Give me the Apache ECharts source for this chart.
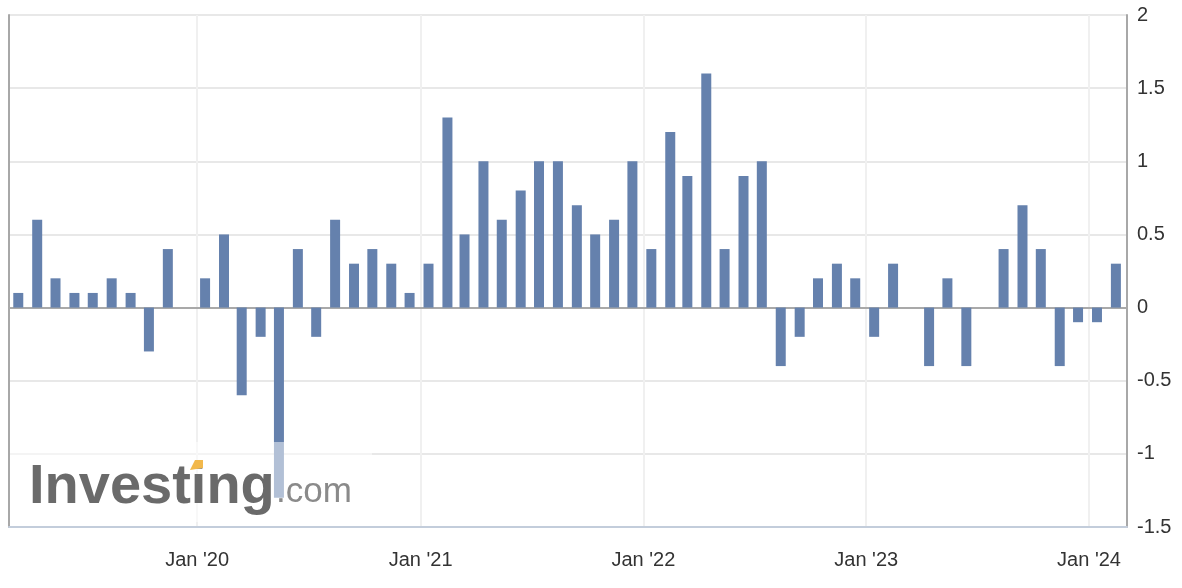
<!DOCTYPE html>
<html><head><meta charset="utf-8">
<script src="https://cdn.jsdelivr.net/npm/echarts@6/dist/echarts.min.js"></script>
<style>html,body{margin:0;padding:0;background:#fff}#c{width:1182px;height:588px}</style>
</head><body><div id="c"></div>
<script>
// Monthly periods, Mar 2019 .. Feb 2024
const months = [
  '2019-03','2019-04','2019-05','2019-06','2019-07','2019-08','2019-09','2019-10','2019-11','2019-12',
  '2020-01','2020-02','2020-03','2020-04','2020-05','2020-06','2020-07','2020-08','2020-09','2020-10','2020-11','2020-12',
  '2021-01','2021-02','2021-03','2021-04','2021-05','2021-06','2021-07','2021-08','2021-09','2021-10','2021-11','2021-12',
  '2022-01','2022-02','2022-03','2022-04','2022-05','2022-06','2022-07','2022-08','2022-09','2022-10','2022-11','2022-12',
  '2023-01','2023-02','2023-03','2023-04','2023-05','2023-06','2023-07','2023-08','2023-09','2023-10','2023-11','2023-12',
  '2024-01','2024-02'
];
const values = [
  0.1, 0.6, 0.2, 0.1, 0.1, 0.2, 0.1, -0.3, 0.4, 0.0,
  0.2, 0.5, -0.6, -0.2, -1.3, 0.4, -0.2, 0.6, 0.3, 0.4, 0.3, 0.1,
  0.3, 1.3, 0.5, 1.0, 0.6, 0.8, 1.0, 1.0, 0.7, 0.5, 0.6, 1.0,
  0.4, 1.2, 0.9, 1.6, 0.4, 0.9, 1.0, -0.4, -0.2, 0.2, 0.3, 0.2,
  -0.2, 0.3, 0.0, -0.4, 0.2, -0.4, 0.0, 0.4, 0.7, 0.4, -0.4, -0.1,
  -0.1, 0.3
];
const yTickValues = [-1.5, -1, -0.5, 0, 0.5, 1, 1.5, 2];
// axis range (ECharts widens a bar axis by half a bar on each side)
const xRange = ['2019-03-07', '2024-02-24'];

const data = months.map((m, i) => [m + '-14', values[i]]);
const FONT = 'Arial, "Liberation Sans", Helvetica, sans-serif';

const chart = echarts.init(document.getElementById('c'), null, {renderer: 'canvas'});
chart.setOption({
  animation: false,
  backgroundColor: '#ffffff',
  grid: {left: 9, right: 55, top: 15, bottom: 61, containLabel: false},
  xAxis: {
    type: 'time',
    min: xRange[0],
    max: xRange[1],
    minInterval: 365 * 86400000,
    splitNumber: 5,
    axisLine: {show: true, onZero: false, lineStyle: {color: '#c3cddb', width: 2}},
    axisTick: {show: false},
    splitLine: {show: true, lineStyle: {color: '#f0f0f0', width: 2}},
    axisLabel: {
      color: '#333333', fontSize: 20, fontFamily: FONT, margin: 23,
      showMinLabel: false, showMaxLabel: false,
      formatter: function (val) {
        const d = new Date(val);
        if (d.getMonth() === 0 && d.getDate() === 1) return "Jan '" + String(d.getFullYear()).slice(2);
        return '';
      }
    }
  },
  yAxis: [{
    type: 'value',
    position: 'right',
    min: yTickValues[0],
    max: yTickValues[yTickValues.length - 1],
    interval: 0.5,
    axisLine: {show: true, lineStyle: {color: '#a8a8a8', width: 2}},
    axisTick: {show: false},
    splitLine: {show: true, lineStyle: {color: '#e8e8e8', width: 2}},
    axisLabel: {color: '#333333', fontSize: 20, fontFamily: FONT, margin: 10}
  }, {
    type: 'value',
    position: 'left',
    min: yTickValues[0],
    max: yTickValues[yTickValues.length - 1],
    interval: 0.5,
    axisLine: {show: true, lineStyle: {color: '#a8a8a8', width: 2}},
    axisTick: {show: false},
    splitLine: {show: false},
    axisLabel: {show: false}
  }],
  series: [{
    type: 'bar',
    data: data,
    yAxisIndex: 0,
    barWidth: 10,
    itemStyle: {color: '#6581ad'},
    markLine: {
      silent: true,
      symbol: 'none',
      label: {show: false},
      lineStyle: {color: '#a9a9a9', width: 2, type: 'solid'},
      data: [{yAxis: 0}],
      z: 1
    }
  }],
  graphic: [
    {type: 'rect', z: 100, shape: {x: 10, y: 442, width: 362, height: 80}, style: {fill: 'rgba(255,255,255,0.5)'}},
    {type: 'text', z: 101, x: 29, y: 460, style: {text: 'Investing', font: 'bold 56px ' + FONT, fill: '#6a6a6a', verticalAlign: 'top'}},
    {type: 'text', z: 101, x: 276, y: 475, style: {text: '.com', font: '35px ' + FONT, fill: '#8a8a8a', verticalAlign: 'top'}},
    {type: 'polygon', z: 102, shape: {points: [[190, 470], [195, 460], [203, 460], [203, 468]]}, style: {fill: '#f2b84b'}}
  ]
});
</script>
</body></html>
